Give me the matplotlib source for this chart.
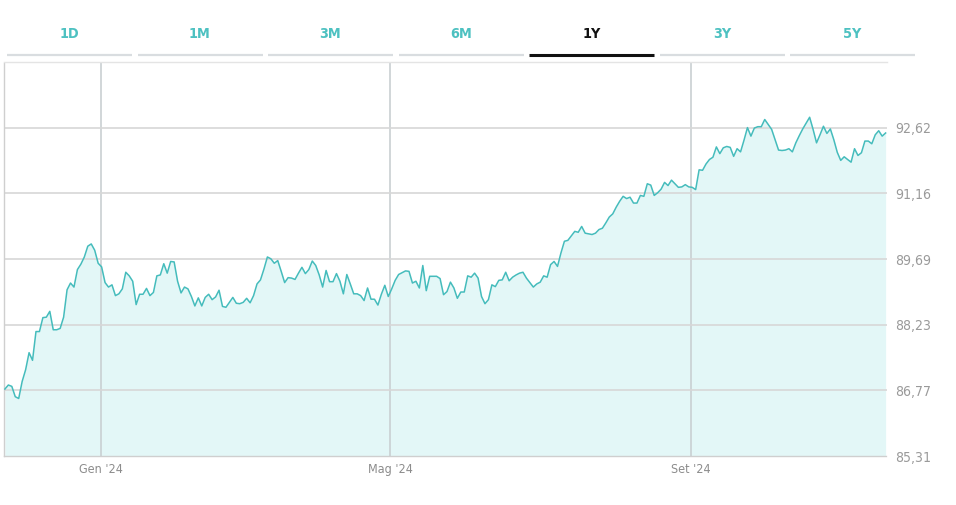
import numpy as np
import pandas as pd
import matplotlib
matplotlib.use("Agg")
import matplotlib.pyplot as plt
from matplotlib.lines import Line2D
from matplotlib import font_manager as fm

# ---------------- data ----------------
start_date = "2023-11-20"
end_date = "2024-11-19"
market_holidays = ["2023-12-25", "2023-12-26", "2024-01-01",
                   "2024-03-29", "2024-04-01", "2024-05-01"]

trading_day = [
    0, 1, 2, 3, 4, 5, 6, 7, 8, 9, 10, 11, 12, 13, 14, 15, 16, 17, 18, 19,
    20, 21, 22, 23, 24, 25, 26, 27, 28, 29, 30, 31, 32, 33, 34, 35, 36, 37, 38, 39,
    40, 41, 42, 43, 44, 45, 46, 47, 48, 49, 50, 51, 52, 53, 54, 55, 56, 57, 58, 59,
    60, 61, 62, 63, 64, 66, 67, 68, 69, 70, 71, 72, 73, 74, 75, 76, 77, 78, 79, 80,
    81, 82, 83, 84, 85, 86, 87, 88, 89, 90, 91, 92, 93, 94, 95, 96, 97, 98, 99, 100,
    101, 102, 103, 104, 105, 106, 107, 108, 109, 110, 111, 112, 113, 114, 115, 116, 117, 118, 119, 120,
    121, 122, 123, 124, 125, 126, 127, 128, 129, 130, 131, 132, 133, 134, 135, 136, 137, 138, 139, 140,
    141, 142, 143, 144, 145, 146, 147, 148, 149, 150, 151, 152, 153, 154, 155, 156, 157, 158, 159, 160,
    161, 162, 163, 164, 165, 166, 167, 168, 170, 171, 172, 173, 174, 175, 176, 177, 178, 179, 180, 181,
    182, 183, 184, 185, 186, 187, 188, 189, 190, 191, 192, 193, 194, 195, 196, 197, 198, 199, 200, 201,
    202, 203, 204, 205, 206, 207, 208, 209, 210, 211, 212, 213, 214, 215, 216, 217, 218, 219, 220, 221,
    222, 223, 224, 225, 226, 227, 228, 229, 230, 231, 232, 233, 234, 235, 236, 237, 238, 239, 240, 241,
    242, 243, 244, 245, 246, 247, 248, 249, 250, 251, 252, 253, 254, 255,
]

price = [
    86.80, 86.89, 86.86, 86.63, 86.59, 86.97, 87.23, 87.61, 87.44, 88.08,
    88.08, 88.39, 88.40, 88.53, 88.12, 88.12, 88.15, 88.40, 89.01, 89.16,
    89.07, 89.46, 89.58, 89.74, 89.98, 90.03, 89.89, 89.60, 89.52, 89.17,
    89.07, 89.12, 88.88, 88.92, 89.03, 89.40, 89.32, 89.20, 88.68, 88.91,
    88.91, 89.04, 88.88, 88.95, 89.32, 89.34, 89.59, 89.38, 89.64, 89.63,
    89.20, 88.94, 89.07, 89.03, 88.86, 88.65, 88.83, 88.65, 88.84, 88.91,
    88.79, 88.85, 89.00, 88.64, 88.62, 88.84, 88.71, 88.70, 88.73, 88.82,
    88.72, 88.88, 89.14, 89.23, 89.47, 89.74, 89.70, 89.60, 89.66, 89.42,
    89.17, 89.28, 89.27, 89.24, 89.38, 89.51, 89.37, 89.46, 89.65, 89.55,
    89.34, 89.07, 89.44, 89.19, 89.19, 89.37, 89.20, 88.92, 89.35, 89.14,
    88.92, 88.92, 88.88, 88.77, 89.05, 88.80, 88.80, 88.67, 88.91, 89.11,
    88.86, 89.03, 89.22, 89.35, 89.39, 89.43, 89.42, 89.16, 89.20, 89.05,
    89.55, 88.99, 89.31, 89.31, 89.31, 89.26, 88.90, 88.97, 89.18, 89.05,
    88.82, 88.96, 88.96, 89.32, 89.29, 89.38, 89.27, 88.86, 88.70, 88.79,
    89.12, 89.08, 89.22, 89.23, 89.40, 89.21, 89.29, 89.34, 89.38, 89.40,
    89.27, 89.17, 89.07, 89.14, 89.18, 89.32, 89.29, 89.57, 89.64, 89.53,
    89.83, 90.09, 90.11, 90.21, 90.31, 90.29, 90.42, 90.27, 90.24, 90.27,
    90.35, 90.38, 90.50, 90.63, 90.70, 90.85, 90.98, 91.09, 91.04, 91.07,
    90.94, 90.94, 91.11, 91.09, 91.37, 91.34, 91.11, 91.17, 91.25, 91.40,
    91.33, 91.45, 91.37, 91.29, 91.30, 91.35, 91.30, 91.29, 91.24, 91.68,
    91.67, 91.81, 91.91, 91.96, 92.19, 92.04, 92.17, 92.20, 92.18, 91.98,
    92.15, 92.08, 92.34, 92.62, 92.43, 92.61, 92.64, 92.64, 92.80, 92.69,
    92.58, 92.35, 92.12, 92.11, 92.12, 92.15, 92.08, 92.28, 92.44, 92.59,
    92.72, 92.85, 92.58, 92.28, 92.46, 92.65, 92.49, 92.59, 92.35, 92.07,
    91.89, 91.97, 91.91, 91.85, 92.15, 92.00, 92.06, 92.32, 92.32, 92.26,
    92.46, 92.55, 92.43, 92.50,
]

y_ticks = [85.31, 86.77, 88.23, 89.69, 91.16, 92.62]
y_top = 94.08
month_ticks = ["2024-01-01", "2024-05-01", "2024-09-01"]
month_labels = ["Gen '24", "Mag '24", "Set '24"]
tabs = ["1D", "1M", "3M", "6M", "1Y", "3Y", "5Y"]
active_tab = "1Y"

# ---------------- fonts ----------------
names = {f.name for f in fm.fontManager.ttflist}
condensed_dejavu = any(f.name == "DejaVu Sans" and f.stretch in ("condensed", 500 - 100, 400 - 100)
                       or ("Condensed" in f.fname and "DejaVuSans" in f.fname)
                       for f in fm.fontManager.ttflist)
if "Liberation Sans Narrow" in names:
    FONT = ["Liberation Sans Narrow", "DejaVu Sans"]
    STRETCH = "normal"
    SCALE = 1.0
elif condensed_dejavu:
    FONT = ["DejaVu Sans", "DejaVu Sans"]
    STRETCH = "condensed"
    SCALE = 0.86
else:
    FONT = ["Roboto", "DejaVu Sans"]
    STRETCH = "normal"
    SCALE = 0.86
plt.rcParams["font.family"] = FONT
plt.rcParams["font.stretch"] = STRETCH

# ---------------- style ----------------
LINE = "#45bcbc"
FILL = "#e3f7f7"
TEAL_TXT = "#4dc1c1"
GRID_H = "#d7d7d7"
GRID_V = "#c9d0d2"
LABEL = "#9a9a9a"

W, H = 956, 505
fig = plt.figure(figsize=(W / 100, H / 100), dpi=100)

def fx(px):
    return px / W

def fy(py):
    return 1 - py / H

left, right, top, bottom = 4, 887, 62, 456
ax = fig.add_axes([fx(left), fy(bottom), fx(right - left), (bottom - top) / H])

calendar = pd.bdate_range(start_date, end_date, freq="C", holidays=market_holidays)
cal_num = calendar.values.astype("datetime64[D]").astype(float)
tick_num = np.array(month_ticks, dtype="datetime64[D]").astype(float)
tick_pos = np.interp(tick_num, cal_num, np.arange(len(calendar)))

x = np.array(trading_day)
y = np.array(price)

ax.fill_between(x, y, y_ticks[0], color=FILL, lw=0, zorder=1)
ax.plot(x, y, color=LINE, lw=1.1, zorder=3, solid_joinstyle="round")

ax.set_xlim(-0.26, len(calendar) - 0.6)
ax.set_ylim(y_ticks[0], y_top)

ax.set_yticks(y_ticks)
ax.set_yticklabels([f"{v:.2f}".replace(".", ",") for v in y_ticks])
ax.yaxis.tick_right()
ax.tick_params(axis="y", length=0, pad=6, labelsize=11.7 * SCALE, labelcolor=LABEL)

ax.set_xticks(tick_pos)
ax.set_xticklabels(month_labels)
ax.tick_params(axis="x", length=0, pad=5, labelsize=10.5 * SCALE, labelcolor="#8c8c8c")

ax.grid(axis="y", color=GRID_H, lw=1.2)
ax.grid(axis="x", color=GRID_V, lw=1.2)
ax.yaxis.get_gridlines()[0].set_visible(False)

ax.spines["right"].set_visible(False)
ax.spines["top"].set_color("#e4e4e4")
ax.spines["top"].set_linewidth(1.0)
for s in ["left", "bottom"]:
    ax.spines[s].set_color("#cfcfcf")
    ax.spines[s].set_linewidth(1.0)
    ax.spines[s].set_linestyle((0, (1, 1)))

# tabs
tab_start, tab_pitch, tab_w = 7, 130.5, 125
for i, t in enumerate(tabs):
    x0 = tab_start + i * tab_pitch
    active = (t == active_tab)
    fig.text(fx(x0 + tab_w / 2), fy(34), t, ha="center", va="center",
             fontsize=12 * SCALE, fontweight="bold",
             color="#111111" if active else TEAL_TXT)
    fig.add_artist(Line2D([fx(x0), fx(x0 + tab_w)], [fy(54.5), fy(54.5)],
                          color="#111111" if active else "#d9dde0",
                          lw=2.2 if active else 1.6,
                          solid_capstyle="butt"))

fig.savefig("out.png", dpi=100, facecolor="white")
